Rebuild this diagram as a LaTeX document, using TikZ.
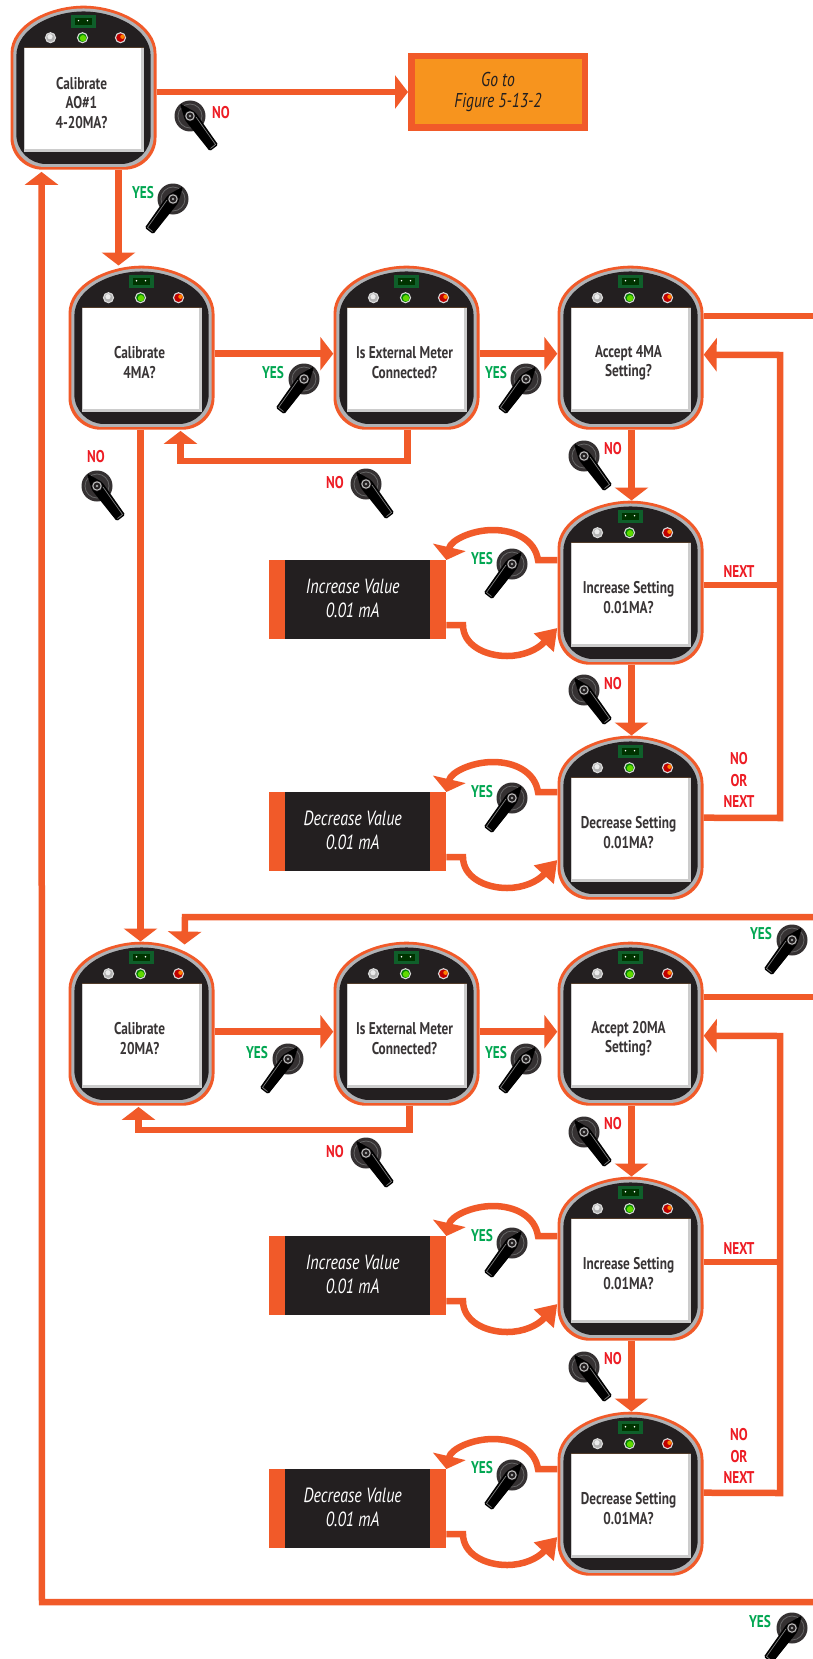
\documentclass[tikz,border=0pt]{standalone}
\usepackage{fontspec}
\setmainfont[FakeStretch=0.78]{PT Sans}
\usetikzlibrary{arrows.meta}
\definecolor{flow}{HTML}{F15A29}
\definecolor{ink}{HTML}{231F20}
\definecolor{rim}{HTML}{B0B2B5}
\definecolor{nored}{HTML}{ED1C24}
\definecolor{yesgreen}{HTML}{00A651}
\definecolor{goorange}{HTML}{F7941E}
\definecolor{chipgreen}{HTML}{0F5F2A}
\tikzset{
  flowline/.style={draw=flow,line width=6.5pt},
  flowarrow/.style={flowline,-{Triangle[length=13pt,width=33pt]}},
  spikearrow/.style={flowline,-{Triangle[length=20pt,width=26pt]}},
  screentext/.style={font=\fontsize{17}{19.5}\selectfont\bfseries,text=ink!90,align=center,inner sep=0pt},
  nolabel/.style={font=\fontsize{17}{21.5}\selectfont\bfseries,text=nored,align=center,inner sep=0pt},
  yeslabel/.style={font=\fontsize{17}{21.5}\selectfont\bfseries,text=yesgreen,align=center,inner sep=0pt},
  valuetext/.style={font=\fontsize{20.5}{24}\selectfont\itshape,text=white,align=center,inner sep=0pt},
  outline/.style={inner sep=0pt,minimum width=146pt,minimum height=164pt,anchor=north west},
  led/.style={draw=white!85!black,line width=1.1pt}
}
\newcommand{\dshape}{(-73,-34) .. controls (-73,-64) and (-33,-82) .. (0,-82) .. controls (33,-82) and (73,-64) .. (73,-34) -- (73,50) .. controls (73,68) and (58,82) .. (41,82) -- (-41,82) .. controls (-58,82) and (-73,68) .. (-73,50) -- cycle}
\newcommand{\hmi}[4]{%
  \node[outline] (#1) at (#2-0.7,#3-0.5) {};
  \begin{scope}[shift={(#1.center)}]
    \fill[flow] \dshape;
    \begin{scope}[xscale=0.962,yscale=0.966]\fill[rim] \dshape;\end{scope}
    \begin{scope}[xscale=0.92,yscale=0.93]\fill[ink] \dshape;\end{scope}
    \fill[white!80!black] (-60,-40) rectangle (60.5,64);
    \fill[white] (-59,-40) rectangle (57.5,61);
    \fill[ink!70!brown] (-60,-41) rectangle (60.5,-40);
    \fill[chipgreen] (-13,-72.5) rectangle (12,-59.5);
    \fill[black!80!green] (-9,-70) rectangle (8,-62.5);
    \fill[white] (-5,-67) circle (0.8) (4,-67) circle (0.8);
    \fill[led,fill=white!70!black] (-33,-50) circle (5);
    \fill[led,fill=green!50!black] (-1,-50) circle (5);
    \fill[led,fill=red!75!black] (37,-50) circle (5);
    \fill[white!92!black] (-33.5,-51) circle (2.6);
    \fill[green!55!yellow!85!black] (-0.5,-49.5) circle (3.2);
    \fill[orange] (39,-51) circle (2.2);
  \end{scope}
  \node[screentext] (#1t) at ([xshift=-2pt,yshift=-15pt]#1.center) {#4};
}
\newcommand{\knob}[4]{%
  \coordinate (#1) at (#2,#3);
  \begin{scope}[shift={(#1)},xscale=#4]
    \fill[ink!92!white] (0,0) circle (15.5);
    \draw[black!60,line width=0.8pt] (0,0) circle (12);
    \fill[black,rounded corners=1.5pt] (-10,-12.5) -- (5.2,-3.9) -- (28.2,28.8) -- (19.8,35.2) -- (-5.2,3.9) -- cycle;
    \draw[black!50,line width=0.7pt] (6,1) -- (25.5,28.5) -- (20.5,32.5);
    \fill[ink] (0,0) circle (5.5);
    \draw[black!25,line width=1pt] (0,0) circle (4.2);
    \fill[black!35] (0,0) circle (1.3);
  \end{scope}
}
\newcommand{\valuebox}[4]{%
  \node[fill=flow,inner sep=0pt,minimum width=177pt,minimum height=79pt,anchor=north west] (#1) at (269,#2) {};
  \node[fill=ink,inner sep=0pt,minimum width=145pt,minimum height=79pt] (#1d) at (#1.center) {};
  \node[valuetext] (#1t) at ([xshift=-5pt,yshift=1pt]#1.center) {#3\\0.01 mA};
  \begin{scope}[shift={(#1.north west)}]
    \draw[flowarrow] (#4.west |- 0,0) -- (269,0) .. controls (266,-20) and (246,-30) .. (224,-30) .. controls (203,-30) and (182,-20) .. (#1.north east);
    \draw[spikearrow] (#1.east |- 0,65) -- (194,65) .. controls (194,85) and (216,96) .. (238,96) .. controls (254,96) and (268,90) .. (#4.west |- 0,68);
  \end{scope}
}
\begin{document}
\begin{tikzpicture}[x=1pt,y=-1pt]
\useasboundingbox (0,0) rectangle (813,1659);
\fill[white] (0,0) rectangle (813,1659);
\hmi{d1}{11}{6}{Calibrate\\AO\#1\\4-20MA?}
\hmi{d2}{69}{266}{Calibrate\\4MA?}
\hmi{d3}{334}{266}{Is External Meter\\Connected?}
\hmi{d4}{558}{266}{Accept 4MA\\Setting?}
\hmi{d5}{558}{501}{Increase Setting\\0.01MA?}
\hmi{d6}{558}{736}{Decrease Setting\\0.01MA?}
\hmi{d7}{69}{942}{Calibrate\\20MA?}
\hmi{d8}{334}{942}{Is External Meter\\Connected?}
\hmi{d9}{558}{942}{Accept 20MA\\Setting?}
\hmi{d10}{558}{1177}{Increase Setting\\0.01MA?}
\hmi{d11}{558}{1412}{Decrease Setting\\0.01MA?}
\node[draw=flow,line width=6.5pt,fill=goorange,inner sep=0pt,minimum width=173.5pt,minimum height=71.5pt,anchor=north west,font=\fontsize{20}{21}\selectfont\itshape,text=ink,align=center] (go) at (408,53) {Go to\\Figure 5-13-2};
\valuebox{v1}{560}{Increase Value}{d5}
\valuebox{v2}{792}{Decrease Value}{d6}
\valuebox{v3}{1236}{Increase Value}{d10}
\valuebox{v4}{1469}{Decrease Value}{d11}
\coordinate (edge1) at (813,316);
\coordinate (edge2) at (813,917);
\coordinate (edge3) at (813,997);
\coordinate (edge4) at (813,1602);
% top
\draw[flowarrow] (d1.east |- go) -- (go.west);
\draw[flowarrow] ([xshift=35pt]d1.south) -- ([xshift=-23pt]d2.north);
\draw[flowarrow] (edge4) -- (42,1602) -- ([xshift=-42pt,yshift=-2pt]d1.south);
% 4 mA row
\draw[flowarrow] ([yshift=-6pt]d2.east) -- ([yshift=-6pt]d3.west);
\draw[flowarrow] ([yshift=-6pt]d3.east) -- ([yshift=-6pt]d4.west);
\draw[flowline] (d4.east |- edge1) -- (edge1);
\draw[flowarrow] ([xshift=-1pt]d2.south) -- ([xshift=-1pt]d7.north);
\draw[flowarrow] ([xshift=1pt]d3.south) -- ++(0,31) -| ([xshift=39pt,yshift=-1pt]d2.south);
\draw[flowarrow] ([xshift=1pt]d4.south) -- ([xshift=1pt]d5.north);
\draw[flowarrow] ([xshift=1pt]d5.south) -- ([xshift=1pt]d6.north);
\draw[flowarrow] ([yshift=0pt]d6.east) -- (780,818) -- (780,355) -- ([yshift=-7pt]d4.east);
\draw[flowline] (d5.east |- 0,585) -- (780,585);
% 20 mA row
\draw[flowarrow] (edge2) -- (185,917) -- ([xshift=43pt,yshift=-3pt]d7.north);
\draw[flowarrow] ([yshift=-8pt]d7.east) -- ([yshift=-8pt]d8.west);
\draw[flowarrow] ([yshift=-8pt]d8.east) -- ([yshift=-8pt]d9.west);
\draw[flowline] (d9.east |- edge3) -- (edge3);
\draw[flowarrow] ([xshift=3pt]d8.south) -- ++(0,24) -| ([xshift=-3pt,yshift=-1pt]d7.south);
\draw[flowarrow] ([xshift=1pt]d9.south) -- ([xshift=1pt]d10.north);
\draw[flowarrow] ([xshift=1pt]d10.south) -- ([xshift=1pt]d11.north);
\draw[flowarrow] ([yshift=1pt]d11.east) -- (780,1493) -- (780,1036) -- ([yshift=-12pt]d9.east);
\draw[flowline] (d10.east |- 0,1262) -- (780,1262);
% knobs
\knob{k1}{190}{116}{1}
\knob{k2}{173}{199}{-1}
\knob{k3}{304}{379}{-1}
\knob{k4}{526}{379}{-1}
\knob{k5}{366}{484}{1}
\knob{k6}{97}{486}{1}
\knob{k7}{584}{456}{1}
\knob{k8}{512}{564}{-1}
\knob{k9}{584}{690}{1}
\knob{k10}{512}{798}{-1}
\knob{k11}{792}{940}{-1}
\knob{k12}{288}{1059}{-1}
\knob{k13}{526}{1059}{-1}
\knob{k14}{366}{1153}{1}
\knob{k15}{584}{1132}{1}
\knob{k16}{512}{1243}{-1}
\knob{k17}{584}{1367}{1}
\knob{k18}{512}{1475}{-1}
\knob{k19}{792}{1628}{-1}
% labels
\node[nolabel] (n1) at (221,113) {NO};
\node[yeslabel] (y1) at (143,193) {YES};
\node[yeslabel] (y2) at (273,373) {YES};
\node[yeslabel] (y3) at (496,373) {YES};
\node[nolabel] (n2) at (335,483) {NO};
\node[nolabel] (n3) at (96,457) {NO};
\node[nolabel] (n4) at (613,449) {NO};
\node[yeslabel] (y4) at (482,559) {YES};
\node[nolabel] (n5) at (739,572) {NEXT};
\node[nolabel] (n6) at (613,684) {NO};
\node[yeslabel] (y5) at (482,792) {YES};
\node[nolabel] (n7) at (739,780) {NO\\OR\\NEXT};
\node[yeslabel] (y6) at (761,934) {YES};
\node[yeslabel] (y7) at (257,1053) {YES};
\node[yeslabel] (y8) at (496,1053) {YES};
\node[nolabel] (n8) at (335,1152) {NO};
\node[nolabel] (n9) at (613,1124) {NO};
\node[yeslabel] (y9) at (482,1236) {YES};
\node[nolabel] (n10) at (739,1249) {NEXT};
\node[nolabel] (n11) at (613,1359) {NO};
\node[yeslabel] (y10) at (482,1468) {YES};
\node[nolabel] (n12) at (739,1456) {NO\\OR\\NEXT};
\node[yeslabel] (y11) at (760,1622) {YES};
\end{tikzpicture}
\end{document}
